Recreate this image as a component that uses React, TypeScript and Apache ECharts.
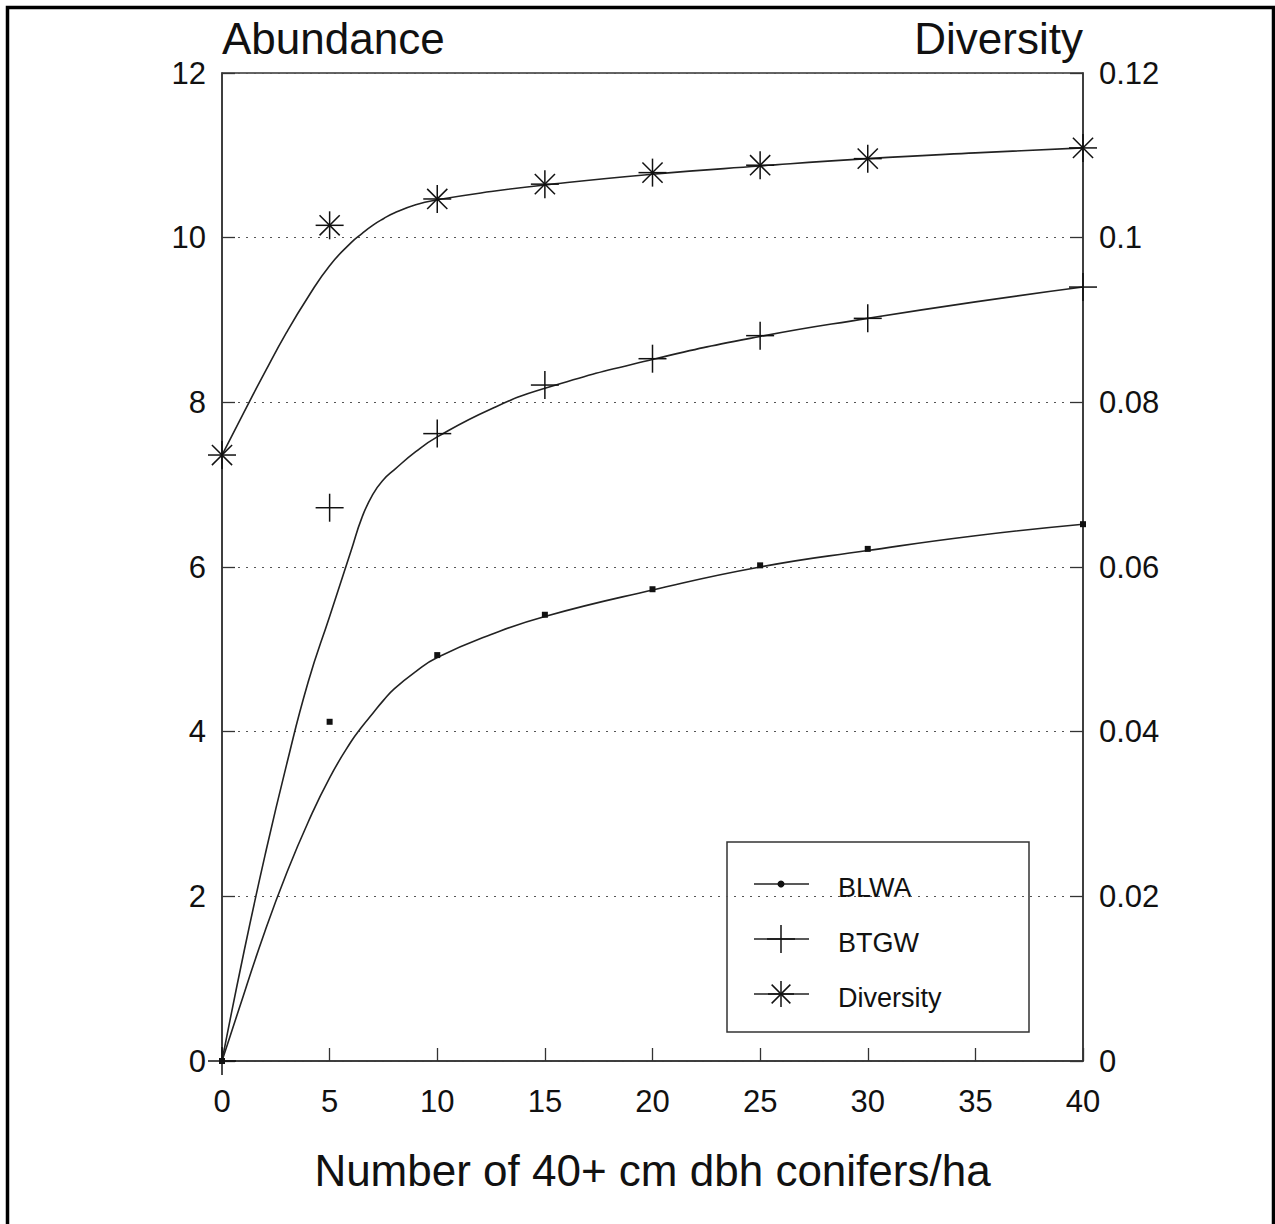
import React, { useEffect, useRef } from "react";
import * as echarts from "echarts";

// Observed data points
const X_POINTS = [0, 5, 10, 15, 20, 25, 30, 40];
const BLWA_POINTS = [0, 4.12, 4.93, 5.42, 5.73, 6.02, 6.22, 6.52];
const BTGW_POINTS = [0, 6.72, 7.62, 8.21, 8.53, 8.81, 9.02, 9.4];
const DIVERSITY_POINTS = [0.0736, 0.1015, 0.1047, 0.1065, 0.1079, 0.1088, 0.1096, 0.1109];

// Fitted curves
const CURVE_X = [0, 1, 2, 3, 4, 5, 6, 6.5, 7, 7.5, 8, 9, 10, 12.5, 15, 20, 25, 30, 35, 40];
const BLWA_CURVE = [0, 0.8, 1.58, 2.28, 2.9, 3.44, 3.88, 4.06, 4.22, 4.38, 4.52, 4.73, 4.9, 5.18, 5.4, 5.72, 6.0, 6.2, 6.38, 6.52];
const BTGW_CURVE = [0, 1.3, 2.5, 3.6, 4.6, 5.4, 6.2, 6.6, 6.88, 7.06, 7.18, 7.4, 7.58, 7.92, 8.17, 8.52, 8.8, 9.02, 9.22, 9.4];
const DIVERSITY_CURVE = [0.0736, 0.0787, 0.0837, 0.0885, 0.0928, 0.0966, 0.0994, 0.1005, 0.1015, 0.1023, 0.103, 0.104, 0.1046, 0.1056, 0.1064, 0.1077, 0.1087, 0.1096, 0.1103, 0.1109];

// Axis ticks
const X_TICKS = { min: 0, max: 40, interval: 5 };
const LEFT_TICKS = { min: 0, max: 12, interval: 2 };
const RIGHT_TICKS = { min: 0, max: 0.12, interval: 0.02 };

const LEGEND_NAMES = ["BLWA", "BTGW", "Diversity"];

const FONT = "Liberation Sans, Arial, Helvetica, sans-serif";
const INK = "#111";
const LINE = "#222";

const pair = (xs: number[], ys: number[]) => xs.map((x, i) => [x, ys[i]]);

function plusShape(cx: number, cy: number, h: number, lw: number) {
  return [
    { type: "line", shape: { x1: cx - h, y1: cy, x2: cx + h, y2: cy }, style: { stroke: INK, lineWidth: lw } },
    { type: "line", shape: { x1: cx, y1: cy - h, x2: cx, y2: cy + h }, style: { stroke: INK, lineWidth: lw } },
  ];
}
function starShape(cx: number, cy: number, h: number, lw: number) {
  const d = h * 0.72;
  return [
    ...plusShape(cx, cy, h, lw),
    { type: "line", shape: { x1: cx - d, y1: cy - d, x2: cx + d, y2: cy + d }, style: { stroke: INK, lineWidth: lw } },
    { type: "line", shape: { x1: cx - d, y1: cy + d, x2: cx + d, y2: cy - d }, style: { stroke: INK, lineWidth: lw } },
  ];
}
function dotShape(cx: number, cy: number, s: number) {
  return [{ type: "rect", shape: { x: cx - s / 2, y: cy - s / 2, width: s, height: s }, style: { fill: INK } }];
}

export default function App() {
  const ref = useRef<HTMLDivElement>(null);

  useEffect(() => {
    if (!ref.current) return;
    const chart = echarts.init(ref.current, null, { renderer: "svg" });

    const curveSeries = (name: string, data: number[], yAxisIndex: number) => ({
      name,
      type: "line",
      yAxisIndex,
      data: pair(CURVE_X, data),
      smooth: 0.5,
      showSymbol: false,
      symbol: "none",
      lineStyle: { color: LINE, width: 1.6 },
      z: 3,
    });

    const markerSeries = (name: string, data: number[], yAxisIndex: number, kind: string) => ({
      name: name + " points",
      type: "custom",
      yAxisIndex,
      data: pair(X_POINTS, data),
      encode: { x: 0, y: 1 },
      clip: false,
      z: 4,
      renderItem: (params: any, api: any) => {
        const p = api.coord([api.value(0), api.value(1)]);
        let children: any[];
        if (kind === "plus") children = plusShape(p[0], p[1], 14, 1.5);
        else if (kind === "star") children = starShape(p[0], p[1], 14, 1.5);
        else children = dotShape(p[0], p[1], 6);
        return { type: "group", children };
      },
    });

    // legend
    const LX = 727, LY = 842, LW = 302, LH = 190;
    const rows = [884, 939, 994];
    const legendChildren: any[] = [
      { type: "rect", shape: { x: LX, y: LY, width: LW, height: LH }, style: { fill: "#fff", stroke: "#333", lineWidth: 1.5 } },
    ];
    LEGEND_NAMES.forEach((nm, i) => {
      const y = rows[i];
      legendChildren.push({ type: "line", shape: { x1: 754, y1: y, x2: 809, y2: y }, style: { stroke: LINE, lineWidth: 1.5 } });
      let sym: any[];
      if (i === 0) sym = [{ type: "circle", shape: { cx: 781, cy: y, r: 3.5 }, style: { fill: INK } }];
      else if (i === 1) sym = plusShape(781, y, 14, 1.5);
      else sym = starShape(781, y, 13, 1.5);
      legendChildren.push(...sym);
      legendChildren.push({
        type: "text",
        x: 838,
        y: y + 4,
        style: { text: nm, font: `27px ${FONT}`, fill: INK, verticalAlign: "middle", align: "left" },
      });
    });

    chart.setOption({
      animation: false,
      backgroundColor: "#fff",
      grid: {
        left: 222,
        right: 192,
        top: 73,
        bottom: 163,
        show: true,
        borderColor: "#333",
        borderWidth: 1.5,
        backgroundColor: "transparent",
      },
      xAxis: {
        type: "value",
        min: X_TICKS.min,
        max: X_TICKS.max,
        interval: X_TICKS.interval,
        name: "Number of 40+ cm dbh conifers/ha",
        nameLocation: "middle",
        nameGap: 87,
        nameTextStyle: { fontFamily: FONT, fontSize: 44, color: INK },
        axisLine: { show: true, onZero: false, lineStyle: { color: "#333", width: 1.5 } },
        axisTick: { show: true, inside: true, length: 13, lineStyle: { color: "#333", width: 1.3 } },
        axisLabel: { fontFamily: FONT, fontSize: 31, color: INK, margin: 25 },
        splitLine: { show: false },
      },
      yAxis: [
        {
          type: "value",
          position: "left",
          min: LEFT_TICKS.min,
          max: LEFT_TICKS.max,
          interval: LEFT_TICKS.interval,
          axisLine: { show: true, lineStyle: { color: "#333", width: 1.5 } },
          axisTick: { show: true, inside: true, length: 13, lineStyle: { color: "#333", width: 1.3 } },
          axisLabel: { fontFamily: FONT, fontSize: 31, color: INK, margin: 16 },
          splitLine: { show: true, lineStyle: { color: "#555", width: 1.2, type: [2, 6] } },
        },
        {
          type: "value",
          position: "right",
          min: RIGHT_TICKS.min,
          max: RIGHT_TICKS.max,
          interval: RIGHT_TICKS.interval,
          axisLine: { show: true, lineStyle: { color: "#333", width: 1.5 } },
          axisTick: { show: true, inside: true, length: 13, lineStyle: { color: "#333", width: 1.3 } },
          axisLabel: {
            fontFamily: FONT,
            fontSize: 31,
            color: INK,
            margin: 16,
            formatter: (v: number) => String(Math.round(v * 100) / 100),
          },
          splitLine: { show: false },
        },
      ],
      series: [
        curveSeries("BLWA", BLWA_CURVE, 0),
        curveSeries("BTGW", BTGW_CURVE, 0),
        curveSeries("Diversity", DIVERSITY_CURVE, 1),
        markerSeries("BLWA", BLWA_POINTS, 0, "dot"),
        markerSeries("BTGW", BTGW_POINTS, 0, "plus"),
        markerSeries("Diversity", DIVERSITY_POINTS, 1, "star"),
      ],
      graphic: [
        {
          type: "rect",
          shape: { x: 7.5, y: 7.5, width: 1266, height: 1400 },
          style: { fill: "none", stroke: "#000", lineWidth: 3.5 },
          z: 10,
        },
        {
          type: "text",
          x: 222,
          y: 38,
          style: { text: "Abundance", font: `44px ${FONT}`, fill: INK, align: "left", verticalAlign: "middle" },
        },
        {
          type: "text",
          x: 1083,
          y: 38,
          style: { text: "Diversity", font: `44px ${FONT}`, fill: INK, align: "right", verticalAlign: "middle" },
        },
        { type: "group", children: legendChildren, z: 20 },
      ],
    });

    return () => chart.dispose();
  }, []);

  return (
    <div
      ref={ref}
      style={{ position: "fixed", left: 0, top: 0, width: 1275, height: 1224, background: "#fff" }}
    />
  );
}
